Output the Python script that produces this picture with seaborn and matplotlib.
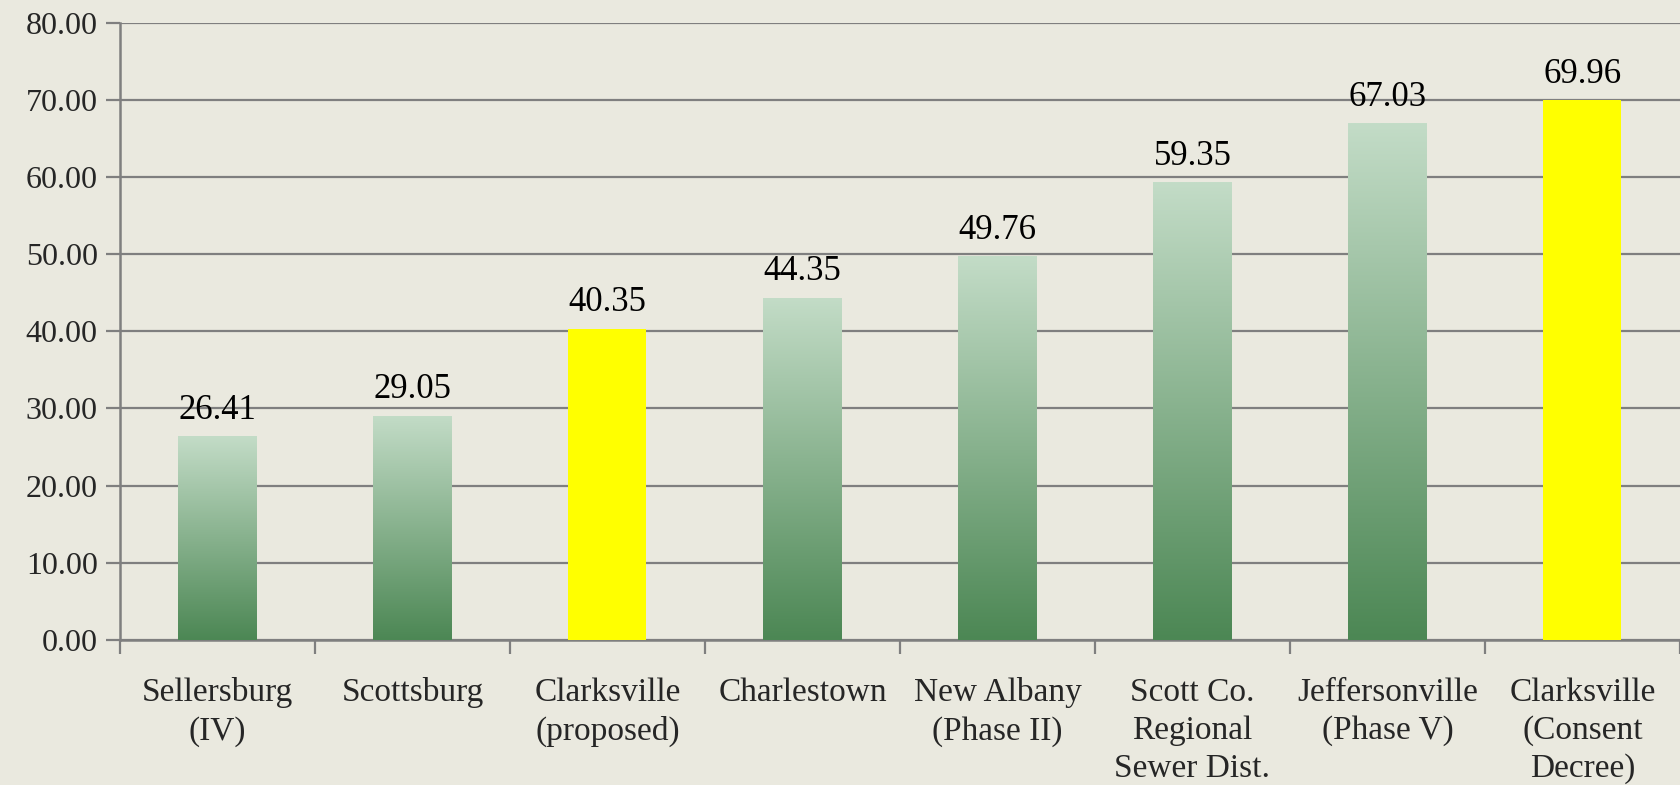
import matplotlib
matplotlib.use("Agg")
import matplotlib.pyplot as plt
import numpy as np
import pandas as pd
import seaborn as sns
from matplotlib.colors import LinearSegmentedColormap

# ---------------------------------------------------------------------------
# Data
# ---------------------------------------------------------------------------
utilities = [
    "Sellersburg\n(IV)",
    "Scottsburg",
    "Clarksville\n(proposed)",
    "Charlestown",
    "New Albany\n(Phase II)",
    "Scott Co.\nRegional\nSewer Dist.",
    "Jeffersonville\n(Phase V)",
    "Clarksville\n(Consent\nDecree)",
]
monthly_rate = [26.41, 29.05, 40.35, 44.35, 49.76, 59.35, 67.03, 69.96]
highlighted = [False, False, True, False, False, False, False, True]
y_ticks = [0, 10, 20, 30, 40, 50, 60, 70, 80]

BACKGROUND = "#EAE9DF"
GRID_COLOR = "#7F7F7F"
YELLOW = "#FFFF00"
GREEN_TOP = "#C3DCC7"
GREEN_BOTTOM = "#4C8754"

rate_df = pd.DataFrame({"Utility": utilities, "Rate": monthly_rate})

sns.set_theme(style="white")
plt.rcParams["font.family"] = ["Liberation Serif", "DejaVu Serif"]

fig = plt.figure(figsize=(16.8, 7.85), dpi=100, facecolor=BACKGROUND)
ax = fig.add_axes([0.0714, 0.185, 0.9286, 0.786])
ax.set_facecolor(BACKGROUND)

palette = [YELLOW if flag else GREEN_BOTTOM for flag in highlighted]
sns.barplot(
    data=rate_df,
    x="Utility",
    y="Rate",
    hue="Utility",
    palette=palette,
    legend=False,
    width=0.4,
    saturation=1,
    ax=ax,
    zorder=3,
)

# Vertical gradient on the green bars, clipped to each bar rectangle.
gradient_cmap = LinearSegmentedColormap.from_list("bar_green", [GREEN_BOTTOM, GREEN_TOP])
gradient = np.linspace(0, 1, 256).reshape(-1, 1)
for bar, flag in zip(ax.patches, highlighted):
    bar.set_edgecolor("none")
    if flag:
        continue
    x0, y0 = bar.get_x(), bar.get_y()
    w, h = bar.get_width(), bar.get_height()
    img = ax.imshow(
        gradient,
        cmap=gradient_cmap,
        extent=[x0, x0 + w, y0, y0 + h],
        origin="lower",
        aspect="auto",
        zorder=3.5,
    )
    img.set_clip_path(bar)

for idx, value in enumerate(monthly_rate):
    ax.text(
        idx,
        value + 1.2,
        f"{value:.2f}",
        ha="center",
        va="bottom",
        fontsize=25,
        color="black",
        zorder=5,
    )

ax.set_xlim(-0.5, len(utilities) - 0.5)
ax.set_ylim(0, 80)
ax.set_yticks(y_ticks)
ax.set_yticklabels([f"{tick:.2f}" for tick in y_ticks], fontsize=23)
ax.yaxis.grid(True, color=GRID_COLOR, linewidth=1.6, zorder=0)
ax.set_axisbelow(True)

# Category labels sit between boundary ticks.
ax.set_xticks(range(len(utilities)))
ax.set_xticklabels(utilities, fontsize=24, linespacing=1.32, va="top")
ax.set_xticks(np.arange(-0.5, len(utilities) + 0.5, 1), minor=True)
ax.tick_params(axis="x", which="major", length=0, pad=27)
ax.tick_params(axis="x", which="minor", length=10, width=1.6, color=GRID_COLOR,
               direction="out", bottom=True)
ax.tick_params(axis="y", length=10, width=1.6, color=GRID_COLOR, direction="out",
               left=True, pad=6)

ax.set_xlabel("")
ax.set_ylabel("")
for side in ["top", "right"]:
    ax.spines[side].set_visible(False)
for side in ["left", "bottom"]:
    ax.spines[side].set_color(GRID_COLOR)
    ax.spines[side].set_linewidth(1.8)

fig.savefig("out.png", dpi=100, facecolor=BACKGROUND)
